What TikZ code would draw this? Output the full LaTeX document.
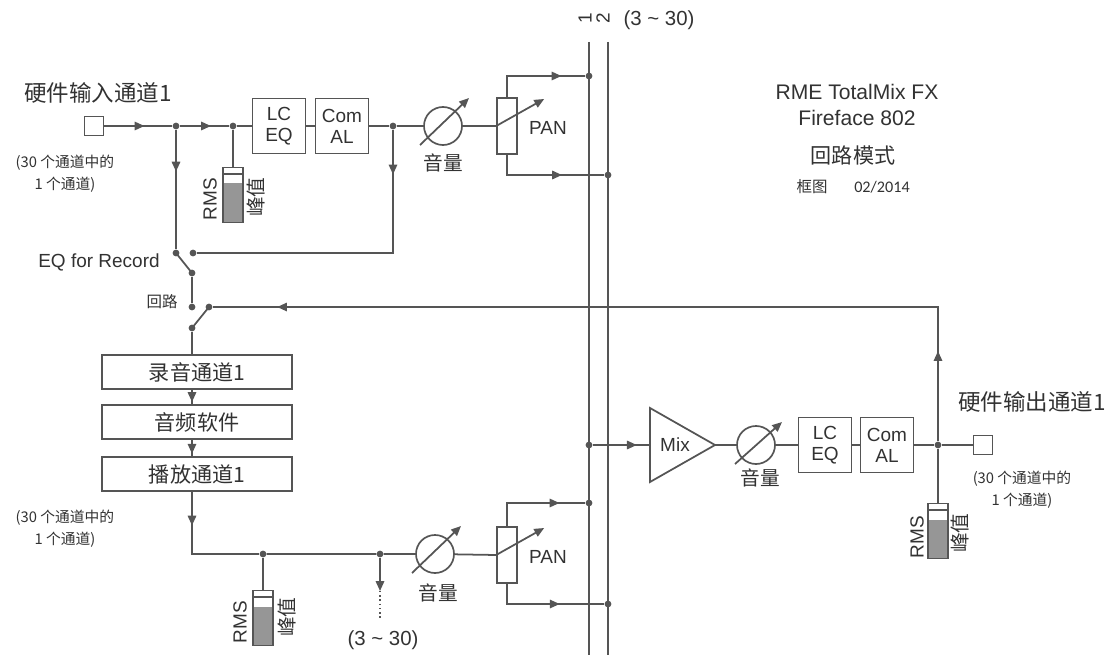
\documentclass[tikz,border=0pt]{standalone}
\usepackage{fontspec}
\setmainfont{Liberation Sans}
\newfontfamily\cjk{Noto Sans CJK SC}
\newfontfamily\narrow{Carlito}
\usetikzlibrary{arrows.meta,decorations.markings}
\definecolor{wiregray}{RGB}{85,85,85}
\definecolor{textgray}{RGB}{50,50,50}
\definecolor{metergray}{RGB}{150,150,150}

\begin{document}
\begin{tikzpicture}[
        x=0.025cm, y=-0.025cm,
        wire/.style={draw=wiregray, line width=1.25pt},
        flow/.style={postaction={decorate, decoration={markings, mark=at position #1 with {\arrow{Triangle[length=7pt,width=6pt]}}}}},
        tip/.style={-{Triangle[length=7pt,width=6pt]}},
        lbl/.style={inner sep=0pt, text=textgray, font=\fontsize{13.5}{15}\selectfont},
        block/.style={rectangle, draw=wiregray, line width=1.2pt, minimum width=1.33cm, minimum height=1.375cm, inner sep=0pt, align=center, text=textgray, font=\fontsize{13.5}{15}\selectfont},
        chan/.style={rectangle, draw=wiregray, line width=1.2pt, minimum width=4.75cm, minimum height=0.85cm, inner sep=0pt, text=textgray, font=\fontsize{15}{17}\selectfont\cjk},
        port/.style={rectangle, draw=wiregray, line width=1.1pt, minimum size=0.48cm, inner sep=0pt},
        vol/.style={circle, draw=wiregray, line width=1.2pt, minimum size=0.95cm, inner sep=0pt},
        pot/.style={rectangle, draw=wiregray, line width=1.2pt, minimum width=0.5cm, minimum height=1.4cm, inner sep=0pt},
        dot/.style={circle, fill=wiregray, inner sep=0pt, minimum size=0.17cm},
        meter/.style={rectangle, draw=wiregray, line width=1.1pt, minimum width=0.5cm, minimum height=1.375cm, inner sep=0pt,
            path picture={
                \fill[metergray] (path picture bounding box.south west) rectangle ([yshift=-0.4cm]path picture bounding box.north east);
                \draw[wiregray, line width=1.5pt] ([yshift=-0.17cm]path picture bounding box.north west) -- ([yshift=-0.17cm]path picture bounding box.north east);
            }}
    ]
    \useasboundingbox (0,0) rectangle (1113,657);

% Title
    \node[lbl, align=center, font=\fontsize{15}{18}\selectfont] (title) at (857,105) {RME TotalMix FX\\Fireface 802};
    \node[lbl, font=\fontsize{15}{17}\selectfont\cjk] (mode) at (853,155) {回路模式};
    \node[lbl, font=\fontsize{11}{13}\selectfont\cjk] (kind) at (812,187) {框图};
    \node[lbl, font=\fontsize{11.5}{13}\selectfont\narrow] (date) at (882,187) {02/2014};

% Busses
    \coordinate (bus1s) at (589,42);
    \coordinate (bus1e) at (589,655);
    \coordinate (bus2s) at (608,42);
    \coordinate (bus2e) at (608,655);
    \draw[wire] (bus1s) -- (bus1e);
    \draw[wire] (bus2s) -- (bus2e);
    \node[lbl, rotate=90] (bus1lbl) at (585,18) {1};
    \node[lbl, rotate=90] (bus2lbl) at (603,18) {2};
    \node[lbl, font=\fontsize{14.5}{16}\selectfont] (busrange) at (659,20) {(3 \textasciitilde{} 30)};
    \node[dot] (p1) at (589,76) {};
    \node[dot] (p2) at (608,175) {};
    \node[dot] (p3) at (589,445) {};
    \node[dot] (p4) at (589,503) {};
    \node[dot] (p5) at (608,604) {};

% Hardware input
    \node[lbl, font=\fontsize{16}{18}\selectfont\cjk] (inlbl) at (98,93) {硬件输入通道1};
    \node[lbl, align=center, font=\fontsize{10.5}{15.5}\selectfont\cjk] (innote) at (65,174) {(30 个通道中的\\1 个通道)};
    \node[port] (insq) at (94,126) {};
    \node[dot] (ja) at (176,126) {};
    \node[dot] (jb) at (233,126) {};
    \node[block] (eqin) at (279,126) {LC\\EQ};
    \node[block] (comin) at (342,126) {Com\\AL};
    \node[dot] (jc) at (393,126) {};
    \node[vol] (volin) at (443,126) {};
    \node[pot] (panin) at (507,126) {};
    \node[meter] (mtin) at (233,195) {};
    \node[lbl, rotate=90] (rmsin) at (210,199) {RMS};
    \node[lbl, rotate=90, font=\fontsize{14}{16}\selectfont\cjk] (pkin) at (256,197) {峰值};
    \node[lbl, font=\fontsize{14}{16}\selectfont\cjk] (vollblin) at (443,163) {音量};
    \node[lbl] (panlblin) at (548,128) {PAN};

    \draw[wire, flow=0.59] (insq) -- (ja);
    \draw[wire, flow=0.63] (ja) -- (jb);
    \draw[wire] (jb) -- (eqin) -- (comin) -- (jc) -- (volin) -- (panin.west);
    \draw[wire] (jb) -- (mtin);
    \draw[wire, tip] ([shift={(-23,19)}]volin.center) -- ([shift={(26,-28)}]volin.center);
    \draw[wire, tip] (panin.west) -- ([shift={(48,-27)}]panin.west);
    \draw[wire, flow=0.76] (panin.north) |- (p1);
    \draw[wire, flow=0.64] (panin.south) |- (p2);

% Switches
    \node[lbl] (eqrec) at (99,262) {EQ for Record};
    \node[lbl, font=\fontsize{11}{13}\selectfont\cjk] (looplbl) at (162,302) {回路};
    \node[dot] (swa) at (176,253) {};
    \node[dot] (swb) at (193,253) {};
    \node[dot] (swc) at (192,273) {};
    \node[dot] (swd) at (192,307) {};
    \node[dot] (swe) at (209,307) {};
    \node[dot] (swf) at (192,328) {};
    \draw[wire] (swa.center) -- (swc.center);
    \draw[wire] (swf.center) -- (swe.center);
    \draw[wire] (swc) -- (swd);
    \draw[wire, flow=0.35] (ja) -- (swa);
    \draw[wire, flow=0.14] (jc) |- (swb);

% Software path
    \node[chan] (rec) at (197,372) {录音通道1};
    \node[chan] (daw) at (197,422) {音频软件};
    \node[chan] (play) at (197,474) {播放通道1};
    \node[lbl, align=center, font=\fontsize{10.5}{15.5}\selectfont\cjk] (pbnote) at (65,529) {(30 个通道中的\\1 个通道)};
    \draw[wire] (swf) -- (swf |- rec.north);
    \draw[wire, flow=0.85] (swf |- rec.south) -- (swf |- daw.north);
    \draw[wire, flow=0.85] (swf |- daw.south) -- (swf |- play.north);

% Playback channel
    \node[dot] (jd) at (263,554) {};
    \node[dot] (je) at (380,554) {};
    \node[vol] (volpb) at (435,554) {};
    \node[pot] (panpb) at (507,555) {};
    \node[meter] (mtpb) at (263,618) {};
    \node[lbl, rotate=90] (rmspb) at (240,622) {RMS};
    \node[lbl, rotate=90, font=\fontsize{14}{16}\selectfont\cjk] (pkpb) at (287,617) {峰值};
    \node[lbl, font=\fontsize{14}{16}\selectfont\cjk] (vollblpb) at (438,593) {音量};
    \node[lbl] (panlblpb) at (548,557) {PAN};
    \node[lbl, font=\fontsize{14.5}{16}\selectfont] (pbrange) at (383,640) {(3 \textasciitilde{} 30)};
    \coordinate (more) at (380,591);
    \coordinate (moreend) at (380,618);

    \draw[wire, flow=0.26] (swf |- play.south) |- (jd);
    \draw[wire] (jd) -- (je) -- (volpb) -- (panpb.west);
    \draw[wire] (jd) -- (mtpb);
    \draw[wire, tip] (je) -- (more);
    \draw[wiregray, line width=1pt, dotted] (more) -- (moreend);
    \draw[wire, tip] ([shift={(-23,19)}]volpb.center) -- ([shift={(26,-28)}]volpb.center);
    \draw[wire, tip] (panpb.west) -- ([shift={(48,-27)}]panpb.west);
    \draw[wire, flow=0.745] (panpb.north) |- (p4);
    \draw[wire, flow=0.62] (panpb.south) |- (p5);

% Hardware output
    \coordinate (mixin) at (650,445);
    \coordinate (mixout) at (715,445);
    \draw[wire] (650,408) -- (mixout) -- (650,482) -- cycle;
    \node[lbl] (mixlbl) at (675,445) {Mix};
    \node[vol] (volout) at (756,445) {};
    \node[block] (eqout) at (825,445) {LC\\EQ};
    \node[block] (comout) at (887,445) {Com\\AL};
    \node[dot] (jo) at (938,445) {};
    \node[port] (outsq) at (983,445) {};
    \node[meter] (mtout) at (938,531) {};
    \node[lbl, rotate=90] (rmsout) at (917,537) {RMS};
    \node[lbl, rotate=90, font=\fontsize{14}{16}\selectfont\cjk] (pkout) at (960,533) {峰值};
    \node[lbl, font=\fontsize{14}{16}\selectfont\cjk] (vollblout) at (760,478) {音量};
    \node[lbl, font=\fontsize{16}{18}\selectfont\cjk] (outlbl) at (1032,402) {硬件输出通道1};
    \node[lbl, align=center, font=\fontsize{10.5}{15.5}\selectfont\cjk] (outnote) at (1022,490) {(30 个通道中的\\1 个通道)};

    \draw[wire, flow=0.77] (p3) -- (mixin);
    \draw[wire] (mixout) -- (volout) -- (eqout) -- (comout) -- (jo) -- (outsq);
    \draw[wire] (jo) -- (mtout);
    \draw[wire, tip] ([shift={(-21,19)}]volout.center) -- ([shift={(26,-23)}]volout.center);
    \draw[wire, flow=0.105, flow=0.925] (jo) |- (swe);

    \end{tikzpicture}
\end{document}
